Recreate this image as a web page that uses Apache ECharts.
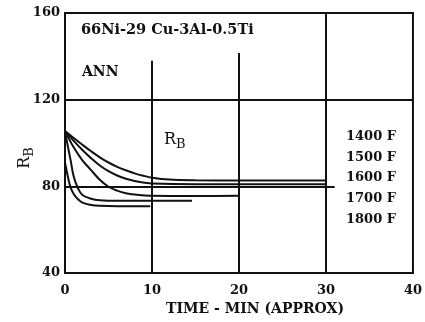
<!DOCTYPE html>
<html>
<head>
<meta charset="utf-8">
<script src="https://cdn.jsdelivr.net/npm/echarts@6/dist/echarts.min.js"></script>
<style>
  html, body { margin: 0; padding: 0; background: #fff; }
  #chart { width: 425px; height: 322px; }
</style>
</head>
<body>
<div id="chart"></div>
<script>
// Rockwell B hardness vs. annealing time, 66Ni-29Cu-3Al-0.5Ti
var xTicks = [0, 10, 20, 30, 40];
var yTicks = [40, 80, 120, 160];
var temps = ['1400 F', '1500 F', '1600 F', '1700 F', '1800 F'];

var curve1400 = [[0,105.5],[1,102.3],[2,99.2],[3,96.2],[4,93.4],[5,91],[6,89],[7,87.4],[8,86],[9,84.9],[10,84],[12,83.1],[15,82.8],[20,82.7],[30,82.7]];
var curve1500 = [[0,105.5],[1,101],[2,96.8],[3,93],[4,89.6],[5,87],[6,85],[7,83.5],[8,82.5],[9,81.8],[10,81.3],[15,81],[20,81],[30,81]];
var curve1600 = [[0,105.5],[1,98],[2,92],[3,87.5],[4,83],[5,79.8],[6,78],[7,76.8],[8,76.2],[10,75.6],[15,75.5],[20,75.6]];
var curve1700 = [[0,105.5],[0.3,99],[0.65,92],[1,84.5],[1.5,79],[2,76],[3,74.3],[4,73.6],[6,73.3],[10,73.3],[14.6,73.3]];
var curve1800 = [[0,91],[0.3,85],[0.6,80],[1,76.5],[1.5,74],[2,72.5],[3,71.4],[4,71],[6,70.8],[9.8,70.8]];

// partial grid rules drawn on the chart: [x1, y1, x2, y2]
var rules = [
  [0, 120, 40, 120],
  [0, 80, 31, 80],
  [10, 40, 10, 138],
  [20, 40, 20, 141.5],
  [30, 40, 30, 160]
];

var serif = 'DejaVu Serif';
var ink = '#111';

var chart = echarts.init(document.getElementById('chart'));

function curve(name, data) {
  return {
    name: name, type: 'line', data: data, smooth: 0.35, symbol: 'none',
    lineStyle: { color: ink, width: 2 }, z: 3, silent: true
  };
}

chart.setOption({
  animation: false,
  backgroundColor: '#fff',
  grid: { left: 65, right: 9, top: 13, bottom: 49, show: true, borderColor: ink, borderWidth: 2 },
  xAxis: {
    type: 'value', min: 0, max: 40, interval: 10,
    axisLine: { show: true, lineStyle: { color: ink, width: 2 } },
    axisTick: { show: true, inside: true, length: 3, lineStyle: { color: ink } },
    splitLine: { show: false },
    axisLabel: { color: ink, fontFamily: serif, fontWeight: 'bold', fontSize: 13, margin: 11 }
  },
  yAxis: {
    type: 'value', min: 40, max: 160, interval: 40,
    axisLine: { show: true, lineStyle: { color: ink, width: 2 } },
    axisTick: { show: true, inside: true, length: 3, lineStyle: { color: ink } },
    splitLine: { show: false },
    axisLabel: { color: ink, fontFamily: serif, fontWeight: 'bold', fontSize: 13, margin: 5 }
  },
  series: [
    {
      type: 'line', data: [], silent: true,
      markLine: {
        silent: true, symbol: 'none', label: { show: false },
        lineStyle: { color: ink, width: 2, type: 'solid' },
        data: rules.map(function (r) { return [{ coord: [r[0], r[1]] }, { coord: [r[2], r[3]] }]; })
      }
    },
    curve(temps[0], curve1400),
    curve(temps[1], curve1500),
    curve(temps[2], curve1600),
    curve(temps[3], curve1700),
    curve(temps[4], curve1800)
  ],
  graphic: [
    { type: 'text', left: 81, top: 23, style: { text: '66Ni-29 Cu-3Al-0.5Ti', font: 'bold 14.5px "DejaVu Serif"', fill: ink } },
    { type: 'text', left: 82, top: 65, style: { text: 'ANN', font: 'bold 14px "DejaVu Serif"', fill: ink } },
    { type: 'text', left: 164, top: 132, style: {
        text: 'R{s|B}', font: '16px "DejaVu Serif"', fill: ink,
        rich: { s: { font: '13px "DejaVu Serif"', fill: ink, padding: [10, 0, 0, 0] } }
    } },
    { type: 'text', left: 346, top: 126, style: { text: temps.join('\n'), font: 'bold 13px "DejaVu Serif"', fill: ink, lineHeight: 20.8 } },
    { type: 'text', x: 255, y: 309, style: { text: 'TIME - MIN (APPROX)', font: 'bold 14px "DejaVu Serif"', fill: ink, textAlign: 'center', textVerticalAlign: 'middle' } },
    { type: 'text', x: 25, y: 158, rotation: Math.PI / 2, style: {
        text: 'R{s|B}', font: '16px "DejaVu Serif"', fill: ink, textAlign: 'center', textVerticalAlign: 'middle',
        rich: { s: { font: '13px "DejaVu Serif"', fill: ink, padding: [10, 0, 0, 0] } }
    } }
  ]
});
</script>
</body>
</html>
